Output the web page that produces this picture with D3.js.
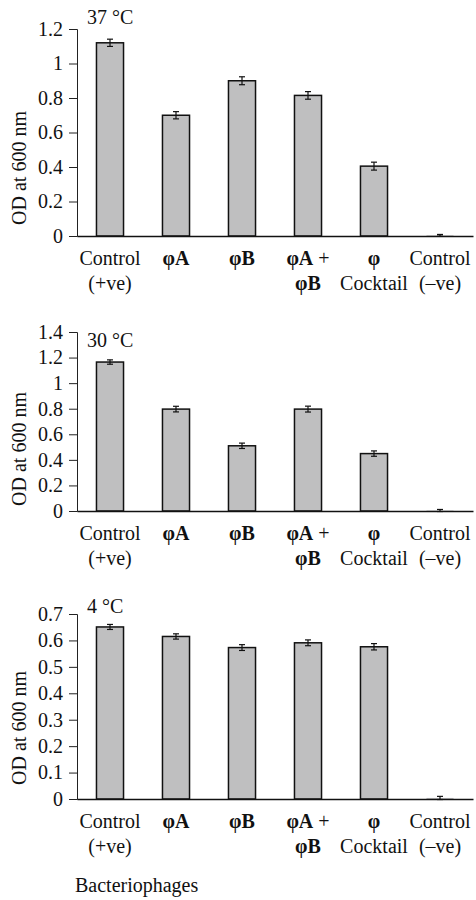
<!DOCTYPE html>
<html>
<head>
<meta charset="utf-8">
<script src="https://cdn.jsdelivr.net/npm/d3@7"></script>
<style>
  body { margin: 0; background: #fff; }
</style>
</head>
<body>
<svg width="476" height="900" font-family="Liberation Serif"></svg>
<script>
// categories, each split into the two lines shown under the bars
const categorias = ['Control (+ve)', 'φA', 'φB', 'φA + φB', 'φ Cocktail', 'Control (–ve)'];
const linhas = [
    ['Control', '(+ve)'],
    ['φA', ''],
    ['φB', ''],
    ['φA +', 'φB'],
    ['φ', 'Cocktail'],
    ['Control', '(–ve)']
];

const od37 = [1.12, 0.70, 0.90, 0.815, 0.405, 0.004];
const erro37 = [0.021, 0.021, 0.023, 0.022, 0.023, 0.005];
const ticks37 = [0, 0.2, 0.4, 0.6, 0.8, 1, 1.2];

const od30 = [1.165, 0.797, 0.51, 0.797, 0.449, 0.004];
const erro30 = [0.017, 0.022, 0.021, 0.023, 0.021, 0.008];
const ticks30 = [0, 0.2, 0.4, 0.6, 0.8, 1, 1.2, 1.4];

const od4 = [0.651, 0.615, 0.573, 0.591, 0.576, 0.004];
const erro4 = [0.0095, 0.01, 0.011, 0.011, 0.012, 0.006];
const ticks4 = [0, 0.1, 0.2, 0.3, 0.4, 0.5, 0.6, 0.7];

const fonte = 'Liberation Serif';

const svg = d3.select('svg');

const esquerda = 77;
const direita = 473;

const desenha = (titulo, valores, erros, ticks, topo, zero, tituloY, rotuloY) => {
    const maximo = ticks[ticks.length - 1];

    const xEscala = d3.scaleBand()
        .domain(categorias)
        .range([esquerda, direita])
        .paddingInner(0.59)
        .paddingOuter(0.295);

    const yEscala = d3.scaleLinear()
        .domain([0, maximo])
        .range([zero, topo]);

    const g = svg.append('g');

    // y axis
    const eixoY = g.append('g')
        .attr('transform', `translate(${esquerda},0)`)
        .call(d3.axisLeft(yEscala).tickValues(ticks).tickSize(8).tickPadding(6)
            .tickFormat(d => d3.format('~g')(d)))
        .attr('font-family', fonte)
        .attr('font-size', 20);
    eixoY.select('.domain').attr('stroke', '#222').attr('stroke-width', 1);
    eixoY.selectAll('.tick line').attr('stroke', '#222');
    eixoY.selectAll('.tick text').attr('fill', '#111').attr('font-family', fonte);

    // bars
    const dados = categorias.map((c, i) => ({ c, v: valores[i], e: erros[i], l: linhas[i] }));

    g.selectAll('rect.barra').data(dados)
        .enter().append('rect')
            .attr('class', 'barra')
            .attr('x', d => xEscala(d.c))
            .attr('y', d => yEscala(d.v))
            .attr('width', xEscala.bandwidth())
            .attr('height', d => zero - yEscala(d.v))
            .attr('fill', '#bfbfc0')
            .attr('stroke', '#111')
            .attr('stroke-width', d => d.v > 0.02 ? 1.5 : 0);

    // error bars
    const meio = d => xEscala(d.c) + xEscala.bandwidth() / 2;
    const erroG = g.selectAll('g.erro').data(dados)
        .enter().append('g')
            .attr('class', 'erro')
            .attr('stroke', '#111')
            .attr('stroke-width', 1.2);
    erroG.append('line')
        .attr('x1', meio).attr('x2', meio)
        .attr('y1', d => yEscala(d.v - d.e)).attr('y2', d => yEscala(d.v + d.e));
    erroG.append('line')
        .attr('x1', d => meio(d) - 3).attr('x2', d => meio(d) + 3)
        .attr('y1', d => yEscala(d.v + d.e)).attr('y2', d => yEscala(d.v + d.e));
    erroG.append('line')
        .attr('x1', d => meio(d) - 3).attr('x2', d => meio(d) + 3)
        .attr('y1', d => yEscala(d.v - d.e)).attr('y2', d => yEscala(d.v - d.e));

    // x axis (baseline only, labels drawn below)
    const eixoX = g.append('g')
        .attr('transform', `translate(0,${zero})`)
        .call(d3.axisBottom(xEscala).tickSize(0).tickFormat(''));
    eixoX.select('.domain').attr('stroke', '#111').attr('stroke-width', 1.4);

    const rotulos = g.selectAll('text.cat').data(dados)
        .enter().append('text')
            .attr('class', 'cat')
            .attr('text-anchor', 'middle')
            .attr('font-family', fonte)
            .attr('font-size', 20)
            .attr('fill', '#111');
    [0, 1].forEach(k => {
        rotulos.append('tspan')
            .attr('x', meio)
            .attr('y', zero + 29 + k * 25)
            .text(d => d.l[k]);
    });
    // phi characters are bold in the source
    rotulos.selectAll('tspan').each(function () {
        const t = d3.select(this);
        const s = t.text();
        if (s.includes('φ')) {
            t.text('');
            s.split(/(φ\S*)/).forEach(p => {
                if (p === '') return;
                t.append('tspan').attr('font-weight', p.startsWith('φ') ? 'bold' : 'normal').text(p);
            });
        }
    });

    g.append('text')
        .attr('x', 87)
        .attr('y', tituloY)
        .attr('font-family', fonte)
        .attr('font-size', 20)
        .attr('fill', '#111')
        .text(titulo);

    g.append('text')
        .attr('transform', `translate(26,${rotuloY}) rotate(-90)`)
        .attr('text-anchor', 'middle')
        .attr('font-family', fonte)
        .attr('font-size', 20)
        .attr('fill', '#111')
        .text('OD at 600 nm');
};

desenha('37 °C', od37, erro37, ticks37, 29, 236, 24, 168);
desenha('30 °C', od30, erro30, ticks30, 332, 511, 347, 449);
desenha('4 °C', od4, erro4, ticks4, 614, 799, 613, 728);

svg.append('text')
    .attr('x', 75)
    .attr('y', 892)
    .attr('font-family', fonte)
    .attr('font-size', 20)
    .attr('fill', '#111')
    .text('Bacteriophages');
</script>
</body>
</html>
